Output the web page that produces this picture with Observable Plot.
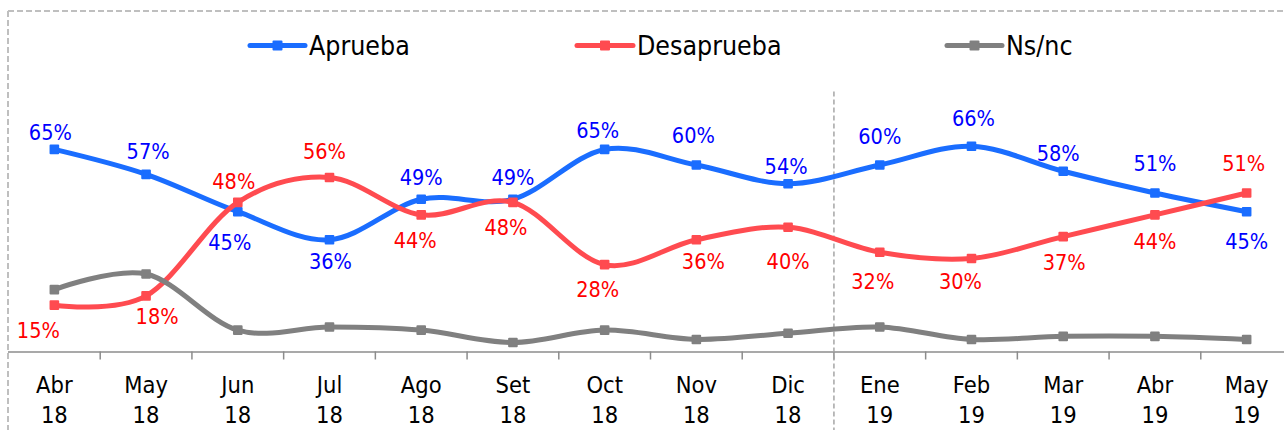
<!DOCTYPE html>
<html><head><meta charset="utf-8">
<script src="https://cdn.jsdelivr.net/npm/d3@7"></script>
<script src="https://cdn.jsdelivr.net/npm/@observablehq/plot@0.6"></script>
<style>
html,body{margin:0;padding:0;background:#fff;}
#chart{width:1284px;height:430px;overflow:hidden;position:relative;}
#chart svg{font-family:"DejaVu Sans Condensed","DejaVu Sans",sans-serif;font-stretch:condensed;}
</style></head><body><div id="chart"></div>
<script>
// ---- data ----
const months = ["Abr 18","May 18","Jun 18","Jul 18","Ago 18","Set 18","Oct 18","Nov 18","Dic 18","Ene 19","Feb 19","Mar 19","Abr 19","May 19"];
const seriesNames = ["Aprueba","Desaprueba","Ns/nc"];
const aprueba    = [65,57,45,36,49,49,65,60,54,60,66,58,51,45];
const desaprueba = [15,18,48,56,44,48,28,36,40,32,30,37,44,51];
const nsnc       = [20,25,7,8,7,3,7,4,6,8,4,5,5,4];
const yearBreak = "Ene 19";

// ---- styles / label placement (px offsets from each point) ----
const lineColors  = ["#1a6dff","#ff4b50","#808080"];
const labelColors = ["#0000ff","#ff0000"];
const apruebaLabelOffset = [[-4,-16],[2,-22],[-8,31],[1,22],[0,-21],[0,-21],[-7,-18],[-3,-29],[-2,-17],[0,-28],[2,-27],[-5,-17],[0,-29],[0,30]];
const desapruebaLabelOffset = [[-16,26],[11,21],[-4,-20],[-5,-25],[-6,26],[-7,26],[-7,25],[7,22],[0,35],[-7,30],[-11,24],[1,26],[0,27],[-3,-29]];

const W = 1284, H = 430;
const xRange = [8, 1292];
const step = (xRange[1] - xRange[0]) / months.length;
const FONT = '"DejaVu Sans Condensed","DejaVu Sans",sans-serif';

const seriesValues = [aprueba, desaprueba, nsnc];
const rows = seriesNames.map((s, k) => months.map((m, i) => ({month: m, series: s, value: seriesValues[k][i]})));

const marks = [];
// axis line & ticks between categories
marks.push(Plot.ruleY([0], {stroke: "#8c8c8c", strokeWidth: 1.5}));
marks.push(Plot.ruleX(months.slice(1), {x: d => d, y1: 0, y2: -2.6, dx: -step / 2, stroke: "#8c8c8c", strokeWidth: 1.5}));
// year separator
marks.push(Plot.ruleX([yearBreak], {x: d => d, y1: -26, y2: 84, dx: -step / 2, stroke: "#a6a6a6", strokeWidth: 1.5, strokeDasharray: "5,3"}));
// series
rows.forEach((r, k) => {
  marks.push(Plot.line(r, {x: "month", y: "value", stroke: lineColors[k], strokeWidth: 5, curve: "cardinal", tension: 0}));
  marks.push(Plot.dot(r, {x: "month", y: "value", symbol: "square", r: 4.3, fill: lineColors[k], stroke: lineColors[k], strokeWidth: 2, strokeLinejoin: "round"}));
});
// value labels
[[0, apruebaLabelOffset], [1, desapruebaLabelOffset]].forEach(([k, offs]) => {
  rows[k].forEach((d, i) => {
    marks.push(Plot.text([d], {x: "month", y: "value", text: v => v.value + "%", dx: offs[i][0], dy: offs[i][1],
      fill: labelColors[k], fontSize: 21.5, lineAnchor: "middle", textAnchor: "middle"}));
  });
});
// x axis labels
marks.push(Plot.axisX({anchor: "bottom", label: null, tickSize: 0, tickPadding: 20, fontSize: 23.5, lineHeight: 1.28,
  tickFormat: d => d.replace(" ", "\n"), fill: "#000"}));

const chart = Plot.plot({
  width: W, height: H,
  marginTop: 39.9, marginBottom: 78.6, marginLeft: 8, marginRight: 0,
  style: {fontFamily: FONT, color: "#000", background: "#fff", overflow: "visible"},
  x: {type: "point", domain: months, range: xRange, padding: 0.5, round: false, axis: null, label: null},
  y: {domain: [0, 100], range: [351.4, 39.9], axis: null},
  marks
});
document.getElementById("chart").appendChild(chart);

// border & legend
const svg = d3.select(chart);
const border = svg.insert("g", ":first-child").attr("fill", "none").attr("stroke", "#bfbfbf").attr("stroke-width", 2).attr("stroke-dasharray", "6,3");
border.append("line").attr("x1", 8).attr("x2", W).attr("y1", 11).attr("y2", 11);
border.append("line").attr("x1", 8).attr("x2", 8).attr("y1", 11).attr("y2", H);

const legendPos = [{x1: 250, x2: 305}, {x1: 577, x2: 633}, {x1: 947, x2: 1002}];
const lg = svg.append("g").attr("font-family", FONT).attr("font-size", 26.5).attr("text-anchor", "start");
seriesNames.forEach((s, k) => {
  const p = legendPos[k], cy = 45.5, mx = (p.x1 + p.x2) / 2;
  lg.append("line").attr("x1", p.x1).attr("x2", p.x2).attr("y1", cy).attr("y2", cy)
    .attr("stroke", lineColors[k]).attr("stroke-width", 5).attr("stroke-linecap", "round");
  lg.append("rect").attr("x", mx - 4).attr("y", cy - 4).attr("width", 8).attr("height", 8)
    .attr("fill", lineColors[k]).attr("stroke", lineColors[k]).attr("stroke-width", 2).attr("stroke-linejoin", "round");
  lg.append("text").attr("x", p.x2 + 4).attr("y", cy).attr("dy", "0.36em").attr("fill", "#000")
    .attr("text-anchor", "start").style("font-stretch", "condensed").text(s);
});
</script></body></html>
